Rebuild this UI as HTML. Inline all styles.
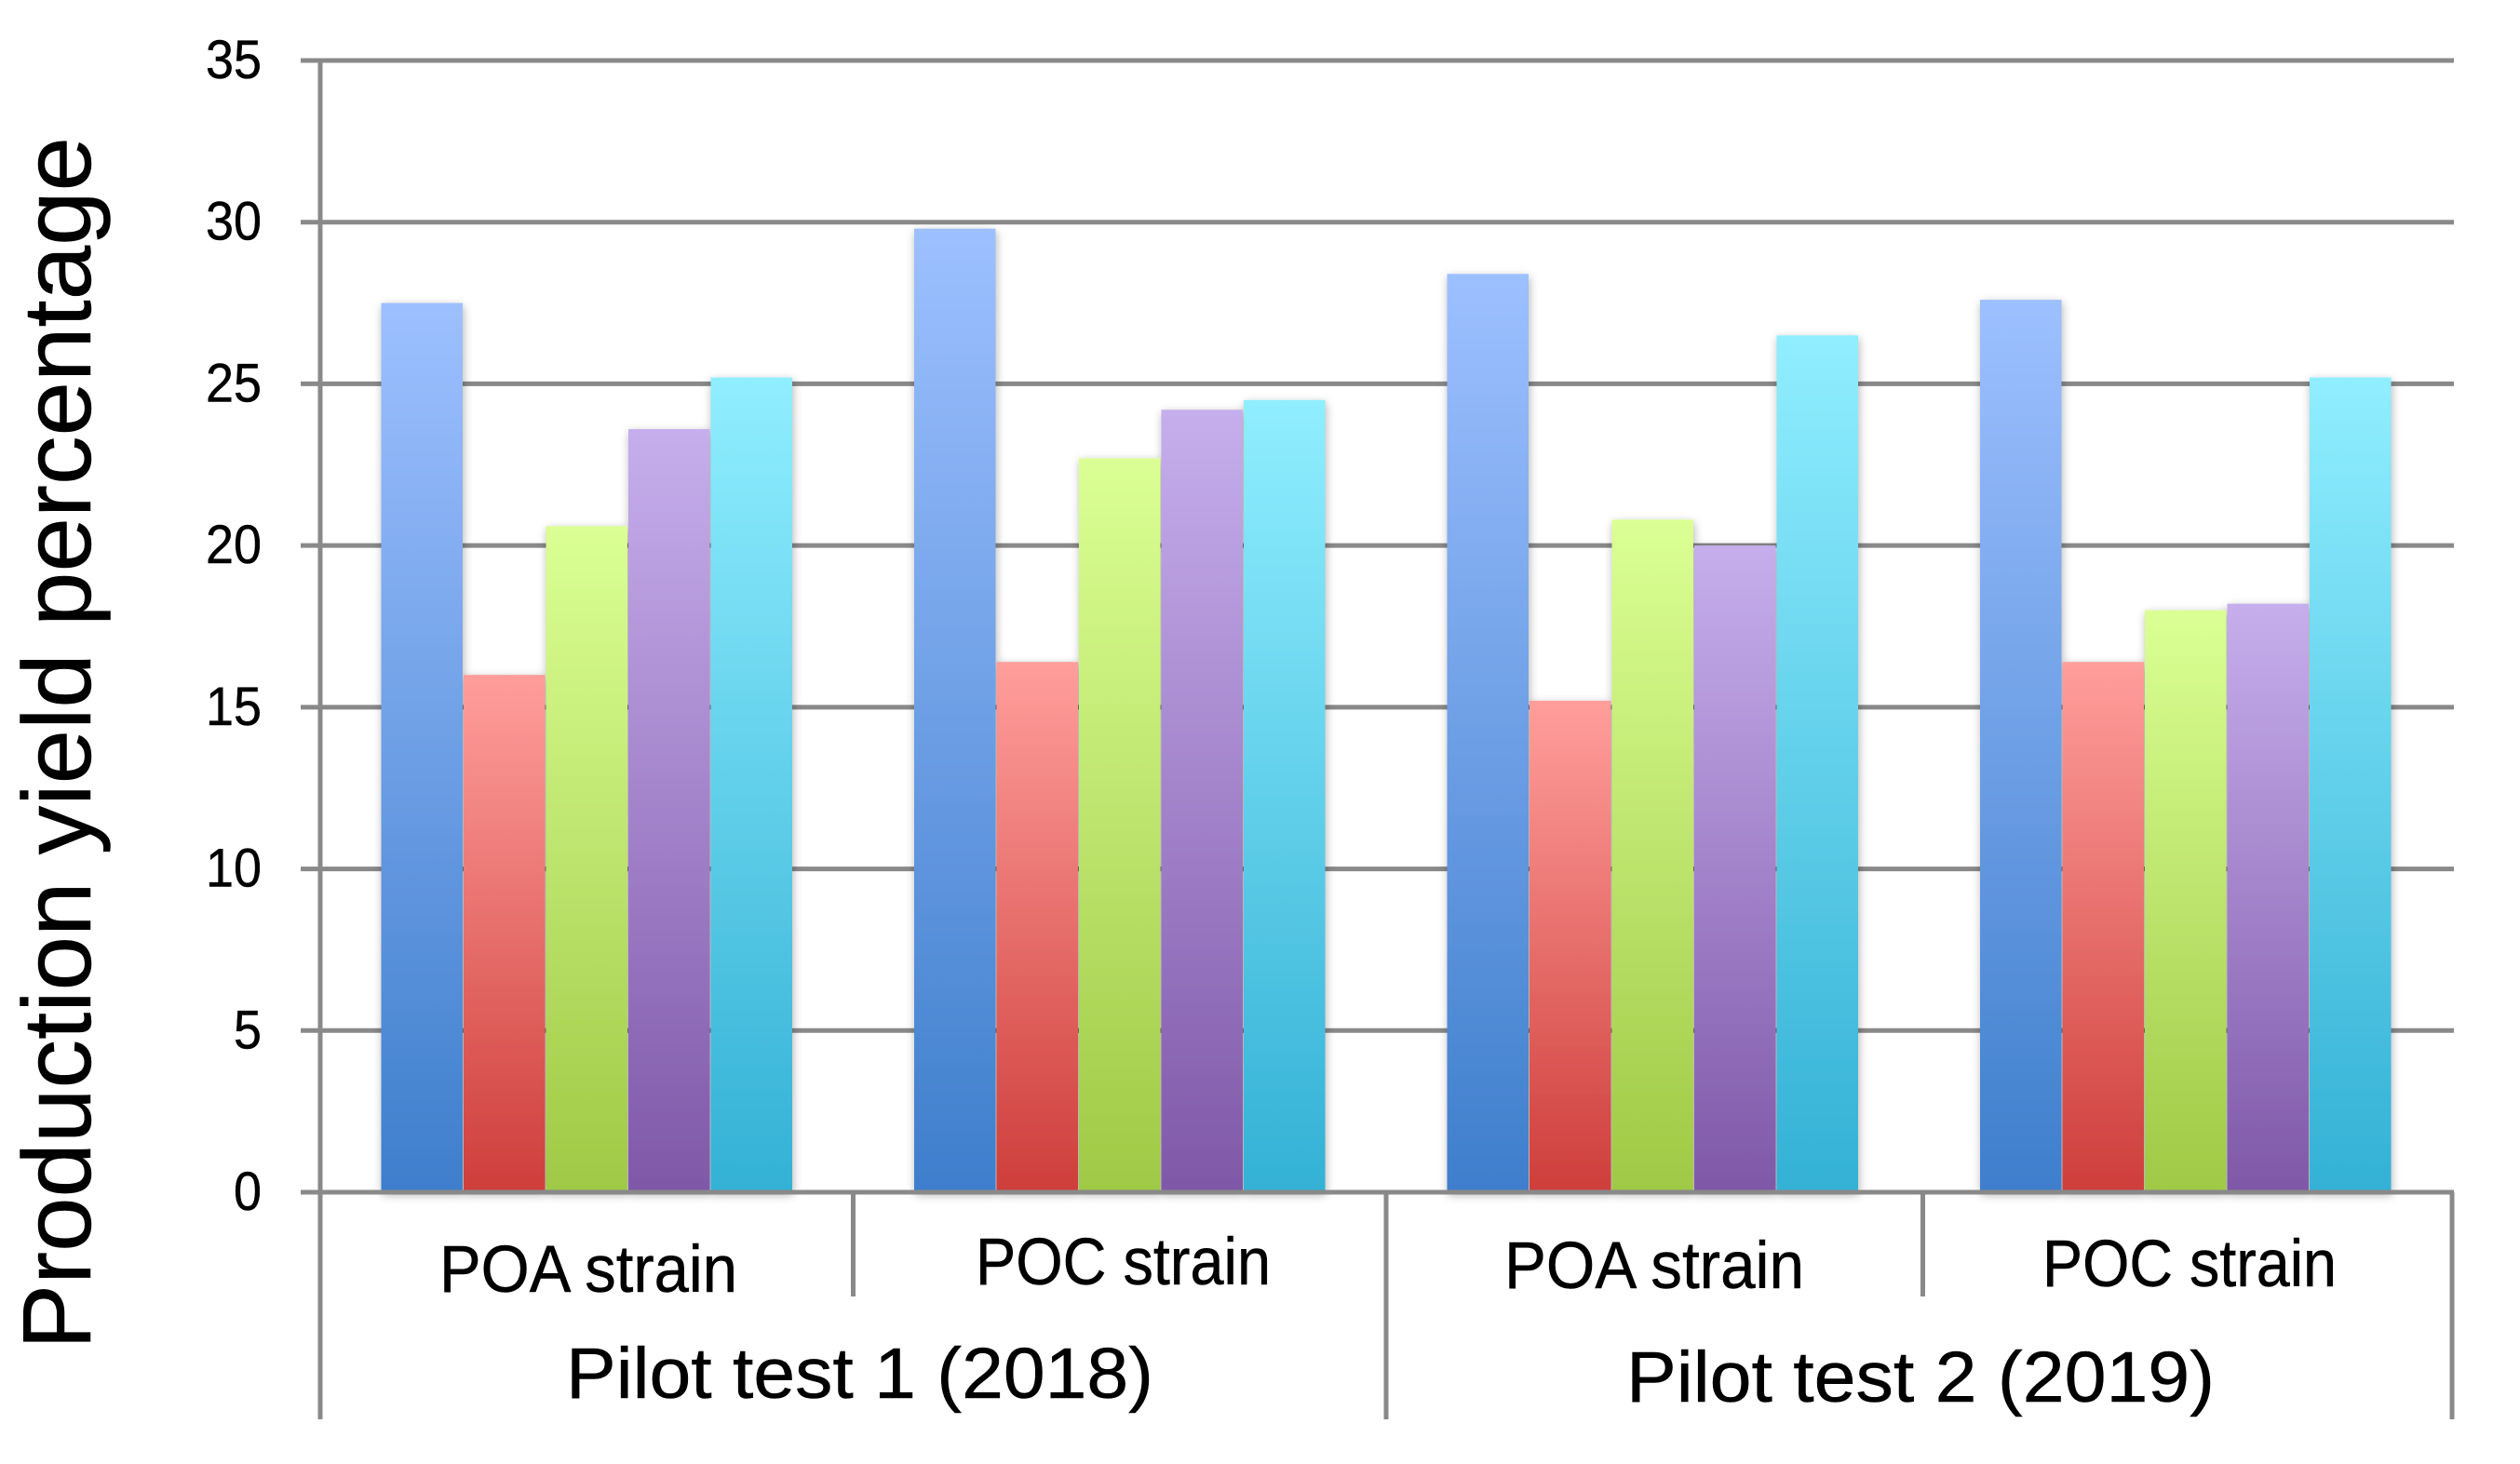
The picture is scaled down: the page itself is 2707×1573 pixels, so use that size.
<!DOCTYPE html>
<html lang="en">
<head>
<meta charset="utf-8">
<title>Production yield percentage chart</title>
<style>
html,body{margin:0;padding:0;background:#fff;width:2707px;height:1573px;overflow:hidden}
svg{display:block}
text{font-family:"Liberation Sans",sans-serif;fill:#000;stroke:#000;stroke-width:0.5px}
</style>
</head>
<body>
<svg id="chart" xmlns="http://www.w3.org/2000/svg" width="2707" height="1573" viewBox="0 0 2707 1573">
<defs>
<filter id="bar-shadow" x="-30%" y="-5%" width="160%" height="110%">
<feGaussianBlur in="SourceAlpha" stdDeviation="5"/>
<feOffset dx="1" dy="3"/>
<feComponentTransfer><feFuncA type="linear" slope="0.3"/></feComponentTransfer>
<feMerge><feMergeNode/><feMergeNode in="SourceGraphic"/></feMerge>
</filter>
<linearGradient id="grad-0" x1="0" y1="0" x2="0" y2="1"><stop offset="0" stop-color="#9DC0FF"/><stop offset="1" stop-color="#3E7ECC"/></linearGradient>
<linearGradient id="grad-1" x1="0" y1="0" x2="0" y2="1"><stop offset="0" stop-color="#FF9E9B"/><stop offset="1" stop-color="#CE3E3B"/></linearGradient>
<linearGradient id="grad-2" x1="0" y1="0" x2="0" y2="1"><stop offset="0" stop-color="#DBFF94"/><stop offset="1" stop-color="#9FC945"/></linearGradient>
<linearGradient id="grad-3" x1="0" y1="0" x2="0" y2="1"><stop offset="0" stop-color="#C6AEEC"/><stop offset="1" stop-color="#7F58A8"/></linearGradient>
<linearGradient id="grad-4" x1="0" y1="0" x2="0" y2="1"><stop offset="0" stop-color="#90EEFF"/><stop offset="1" stop-color="#33B1D5"/></linearGradient>
</defs>
<g id="grid"></g>
<g id="ticks"></g>
<g id="bars"></g>
<g id="axes"></g>
<text transform="translate(97 1450) rotate(-90)" font-size="104" textLength="1303" lengthAdjust="spacingAndGlyphs">Production yield percentage</text>
<text x="472" y="1388" font-size="71" textLength="320" lengthAdjust="spacingAndGlyphs">POA strain</text>
<text x="1048" y="1380" font-size="71" textLength="317" lengthAdjust="spacingAndGlyphs">POC strain</text>
<text x="1616" y="1384" font-size="71" textLength="322" lengthAdjust="spacingAndGlyphs">POA strain</text>
<text x="2194" y="1382" font-size="71" textLength="316" lengthAdjust="spacingAndGlyphs">POC strain</text>
<text x="608" y="1502" font-size="77" textLength="631" lengthAdjust="spacingAndGlyphs">Pilot test 1 (2018)</text>
<text x="1747" y="1506" font-size="77" textLength="632" lengthAdjust="spacingAndGlyphs">Pilot test 2 (2019)</text>
</svg>
<script>
const tickValues = [0, 5, 10, 15, 20, 25, 30, 35];
const tickLabels = ["0", "5", "10", "15", "20", "25", "30", "35"];
const categories = ["POA strain 2018", "POC strain 2018", "POA strain 2019", "POC strain 2019"];
const series1 = [27.5, 29.8, 28.4, 27.6];
const series2 = [16.0, 16.4, 15.2, 16.4];
const series3 = [20.6, 22.7, 20.8, 18.0];
const series4 = [23.6, 24.2, 20.0, 18.2];
const series5 = [25.2, 24.5, 26.5, 25.2];

const NS = "http://www.w3.org/2000/svg";
const allSeries = [series1, series2, series3, series4, series5];
const plotLeft = 344, plotRight = 2634, plotBottom = 1281, plotTop = 65, axisMax = 35;
const bandWidth = (plotRight - plotLeft) / categories.length;
const barStep = 88.5, barInset = 65.5;
function yScale(v) { return plotBottom - (v / axisMax) * (plotBottom - plotTop); }
function bandX(i) { return plotLeft + i * bandWidth; }
function make(tag, attrs, parent) {
  const el = document.createElementNS(NS, tag);
  for (const k in attrs) el.setAttribute(k, attrs[k]);
  parent.appendChild(el);
  return el;
}
const lineStyle = { stroke: "#898989", "stroke-width": 5 };
const grid = document.getElementById("grid");
const ticks = document.getElementById("ticks");
const bars = document.getElementById("bars");
const axes = document.getElementById("axes");

tickValues.forEach(function (v, i) {
  const y = yScale(v);
  if (v !== 0) {
    const line = make("line", Object.assign({ x1: 323, x2: plotRight + 2, y1: y, y2: y }, lineStyle), grid);
    
    
  }
  const label = make("text", { x: 281, y: y + 19, "font-size": 58, "text-anchor": "end" }, ticks);
  label.textContent = tickLabels[i];
  label.setAttribute('textLength', tickLabels[i].length * 30);
  label.setAttribute('lengthAdjust', 'spacingAndGlyphs');
  
  
});

categories.forEach(function (c, i) {
  const group = make("g", { filter: "url(#bar-shadow)" }, bars);
  
  
  allSeries.forEach(function (s, j) {
    const top = yScale(s[i]);
    const r = make("rect", {
      x: bandX(i) + barInset + j * barStep,
      y: top,
      width: barStep - 1,
      height: plotBottom - top,
      fill: "url(#grad-" + j + ")"
    }, group);
    
    
  });
});

const base = make("line", Object.assign({ x1: 323, x2: plotRight + 2, y1: plotBottom, y2: plotBottom }, lineStyle), axes);


const axisV = make("line", Object.assign({ x1: plotLeft, x2: plotLeft, y1: plotTop, y2: plotBottom }, lineStyle), axes);


for (let i = 0; i <= categories.length; i++) {
  const x = bandX(i) + (i === 3 ? 4 : 0);
  const d = make("line", Object.assign({ x1: x, x2: x, y1: plotBottom, y2: i % 2 === 0 ? 1525 : 1393 }, lineStyle), axes);
  
  
}
</script>
</body>
</html>
